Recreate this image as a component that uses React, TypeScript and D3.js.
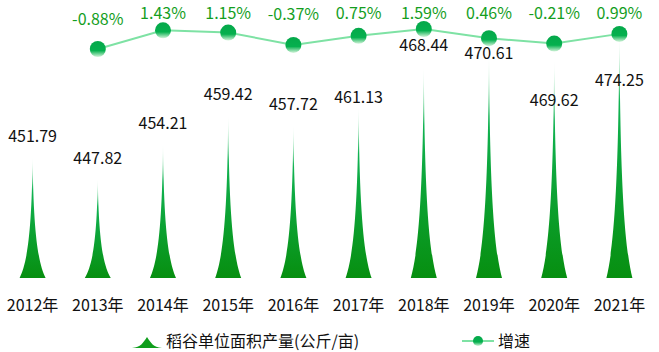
import React, { useEffect, useRef } from 'react';
import * as d3 from 'd3';

// chart data
const years = ['2012年', '2013年', '2014年', '2015年', '2016年', '2017年', '2018年', '2019年', '2020年', '2021年'];
const yieldValues = [451.79, 447.82, 454.21, 459.42, 457.72, 461.13, 468.44, 470.61, 469.62, 474.25];
const growthYears = ['2013年', '2014年', '2015年', '2016年', '2017年', '2018年', '2019年', '2020年', '2021年'];
const growthValues = [-0.88, 1.43, 1.15, -0.37, 0.75, 1.59, 0.46, -0.21, 0.99];
const yieldName = '稻谷单位面积产量(公斤/亩)';
const growthName = '增速';

// manual nudges of the bar value labels (px, downward)
const labelNudge = [0, 0, 0, 0, 0, 12, 0, 20, 62, 67];

const FONT = '"Noto Sans CJK SC", "Noto Sans", sans-serif';

const App = () => {
    const svgRef = useRef<SVGSVGElement>(null);

    useEffect(() => {
        const width = 659;
        const height = 352;
        const base = 278;

        const svg = d3.select(svgRef.current);
        svg.selectAll('*').remove();
        svg.attr('width', width).attr('height', height);

        const defs = svg.append('defs');
        const spikeGrad = defs.append('linearGradient')
            .attr('id', 'spikeGrad').attr('x1', 0).attr('y1', 0).attr('x2', 0).attr('y2', 1);
        spikeGrad.append('stop').attr('offset', '0%').attr('stop-color', '#1bbf5c').attr('stop-opacity', 0);
        spikeGrad.append('stop').attr('offset', '28%').attr('stop-color', '#10b352').attr('stop-opacity', 1);
        spikeGrad.append('stop').attr('offset', '100%').attr('stop-color', '#078f10').attr('stop-opacity', 1);

        const dotGrad = defs.append('linearGradient')
            .attr('id', 'dotGrad').attr('x1', 0).attr('y1', 0).attr('x2', 0).attr('y2', 1);
        dotGrad.append('stop').attr('offset', '0%').attr('stop-color', '#05a84a');
        dotGrad.append('stop').attr('offset', '60%').attr('stop-color', '#05b04e');
        dotGrad.append('stop').attr('offset', '100%').attr('stop-color', '#d6f5dc');

        const x = d3.scaleBand().domain(years).range([0, 652]).padding(0);
        const y = d3.scaleLinear().domain([429.6, 479.6]).range([base, 4]);
        const yRate = d3.scaleLinear().domain([-1, 2]).range([50, 25.7]);
        const cx = (d: string) => (x(d) as number) + x.bandwidth() / 2;

        // concave spike, narrow quickly above the base
        const spike = (c: number, top: number, half: number) => {
            const h = base - top;
            return `M${c - half},${base} C${c - half * 0.45},${base - h * 0.12} ${c - 0.8},${base - h * 0.35} ${c},${top}`
                + ` C${c + 0.8},${base - h * 0.35} ${c + half * 0.45},${base - h * 0.12} ${c + half},${base} Z`;
        };

        // spikes
        svg.append('g')
            .selectAll('path')
            .data(yieldValues)
            .enter()
            .append('path')
            .attr('d', (v, i) => spike(cx(years[i]), y(v), 13))
            .attr('fill', 'url(#spikeGrad)');

        // bar value labels
        svg.append('g')
            .selectAll('text')
            .data(yieldValues)
            .enter()
            .append('text')
            .attr('x', (v, i) => cx(years[i]))
            .attr('y', (v, i) => y(v) - 20 + labelNudge[i])
            .attr('dy', '0.35em')
            .attr('text-anchor', 'middle')
            .attr('font-family', FONT)
            .attr('font-size', 16)
            .attr('fill', '#111')
            .text(v => v.toFixed(2));

        // growth line
        const line = d3.line<number>()
            .x((v, i) => cx(growthYears[i]))
            .y(v => yRate(v));
        svg.append('path')
            .datum(growthValues)
            .attr('d', line)
            .attr('fill', 'none')
            .attr('stroke', '#7ee2a4')
            .attr('stroke-width', 2);

        svg.append('g')
            .selectAll('circle')
            .data(growthValues)
            .enter()
            .append('circle')
            .attr('cx', (v, i) => cx(growthYears[i]))
            .attr('cy', v => yRate(v))
            .attr('r', 8)
            .attr('fill', 'url(#dotGrad)');

        svg.append('g')
            .selectAll('text')
            .data(growthValues)
            .enter()
            .append('text')
            .attr('x', (v, i) => cx(growthYears[i]))
            .attr('y', v => Math.max(13, yRate(v) - 30))
            .attr('dy', '0.35em')
            .attr('text-anchor', 'middle')
            .attr('font-family', FONT)
            .attr('font-size', 16)
            .attr('fill', '#149e1e')
            .text(v => `${v.toFixed(2)}%`);

        // x axis labels
        const xAxis = svg.append('g')
            .attr('transform', `translate(0, ${base})`)
            .call(d3.axisBottom(x).tickSize(0).tickPadding(22));
        xAxis.select('.domain').remove();
        xAxis.selectAll('text')
            .attr('font-family', FONT)
            .attr('font-size', 16)
            .attr('fill', '#111');

        // legend
        const legend = svg.append('g').attr('transform', 'translate(0, 341)');
        legend.append('path')
            .attr('d', 'M132,7 C141,6 143,2 147,-4 C151,2 153,6 162,7 Z')
            .attr('fill', '#0f9e1c');
        legend.append('text')
            .attr('x', 166).attr('y', 0).attr('dy', '0.35em')
            .attr('font-family', FONT).attr('font-size', 16).attr('fill', '#111')
            .text(yieldName);
        legend.append('line')
            .attr('x1', 462).attr('x2', 494).attr('y1', 0).attr('y2', 0)
            .attr('stroke', '#7ee2a4').attr('stroke-width', 2);
        legend.append('circle')
            .attr('cx', 478).attr('cy', 0).attr('r', 5)
            .attr('fill', 'url(#dotGrad)');
        legend.append('text')
            .attr('x', 498).attr('y', 0).attr('dy', '0.35em')
            .attr('font-family', FONT).attr('font-size', 16).attr('fill', '#111')
            .text(growthName);
    }, []);

    return (
        <svg ref={svgRef} style={{ position: 'absolute', left: 0, top: 0, background: '#fff' }}></svg>
    );
};

export default App;
